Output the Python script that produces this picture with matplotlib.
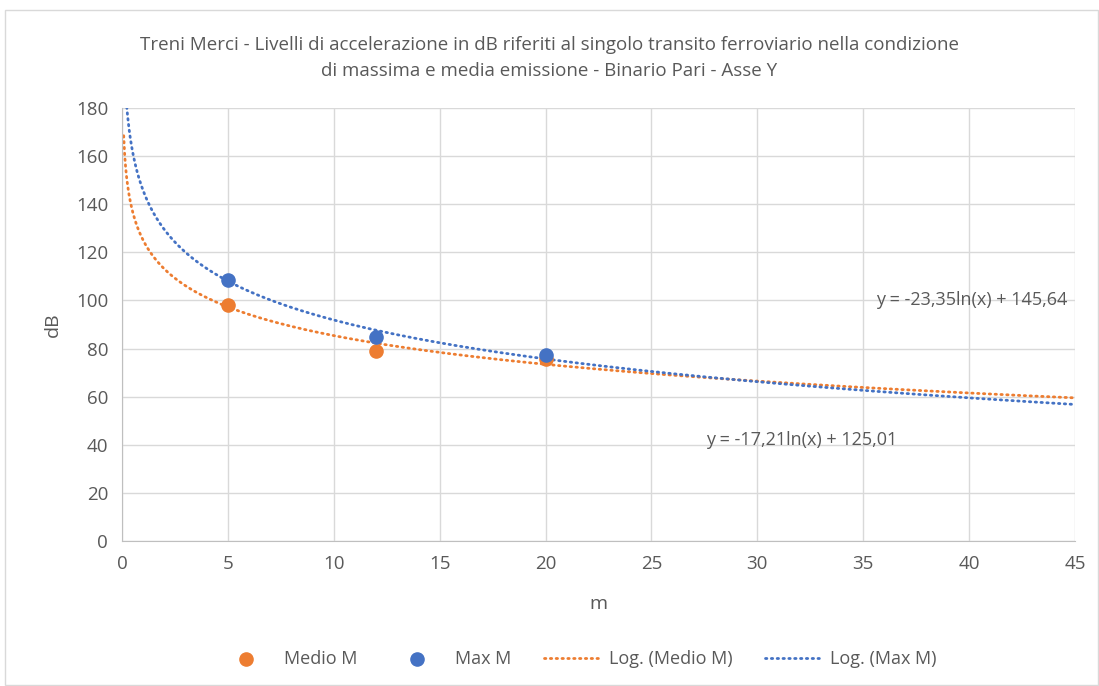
import numpy as np
import matplotlib.pyplot as plt

plt.rcParams['font.family'] = ['Open Sans', 'DejaVu Sans']

# dati
x_pts = [5, 12, 20]
medio_m = [98, 79, 75.5]
max_m = [108.5, 85, 77.5]

# coefficienti delle linee di tendenza logaritmiche (da etichette)
coef_medio = (-17.21, 125.01)
coef_max = (-23.35, 145.64)
eq_medio = "y = -17,21ln(x) + 125,01"
eq_max = "y = -23,35ln(x) + 145,64"

c_orange = '#ED7D31'
c_blue = '#4472C4'
c_text = '#595959'
c_grid = '#D9D9D9'

fig = plt.figure(figsize=(10.99, 6.86), dpi=100)
ax = fig.add_axes([122/1099, 1 - 541/686, (1075-122)/1099, (541-108)/686])

xx = np.linspace(0.08, 45, 2000)
ax.plot(xx, coef_medio[0]*np.log(xx) + coef_medio[1], color=c_orange, lw=2,
        ls=(0, (0.5, 1.6)), dash_capstyle='round', label='Log. (Medio M)', zorder=2)
ax.plot(xx, coef_max[0]*np.log(xx) + coef_max[1], color=c_blue, lw=2,
        ls=(0, (0.5, 1.6)), dash_capstyle='round', label='Log. (Max M)', zorder=2)
ax.scatter(x_pts, medio_m, s=90, color=c_orange, label='Medio M', zorder=3)
ax.scatter(x_pts, max_m, s=90, color=c_blue, label='Max M', zorder=3)

ax.set_xlim(0, 45)
ax.set_ylim(0, 180)
ax.set_xticks(range(0, 46, 5))
ax.set_yticks(range(0, 181, 20))
ax.grid(True, color=c_grid, lw=1)
ax.set_axisbelow(True)
for s in ['top', 'right']:
    ax.spines[s].set_visible(False)
for s in ['left', 'bottom']:
    ax.spines[s].set_color('#BFBFBF')
ax.tick_params(length=0, labelsize=13.5, colors=c_text, pad=10)

ax.set_xlabel('m', fontsize=14, color=c_text, labelpad=16)
ax.set_ylabel('dB', fontsize=14, color=c_text, labelpad=10)

ax.text(35.6, 100, eq_max, fontsize=13, color=c_text, va='center')
ax.text(27.6, 42, eq_medio, fontsize=13, color=c_text, va='center')

fig.suptitle('Treni Merci - Livelli di accelerazione in dB riferiti al singolo transito ferroviario nella condizione\n'
             'di massima e media emissione - Binario Pari - Asse Y',
             y=1 - 36/686, va='top', fontsize=13.5, color=c_text, linespacing=1.55)

h, l = ax.get_legend_handles_labels()
order = [2, 3, 0, 1]
fig.legend([h[i] for i in order], [l[i] for i in order], loc='center',
           bbox_to_anchor=(578/1099, 1 - 659/686), ncol=4, frameon=False,
           fontsize=13, labelcolor=c_text, handlelength=3, handletextpad=0.6,
           columnspacing=1.8)

# cornice esterna
fig.patches.append(plt.Rectangle((5/1099, 0.002), 1 - 6/1099, 1 - 10/686 - 0.002,
                                 transform=fig.transFigure, fill=False,
                                 edgecolor='#D9D9D9', lw=1))

fig.savefig('out.png', dpi=100)
